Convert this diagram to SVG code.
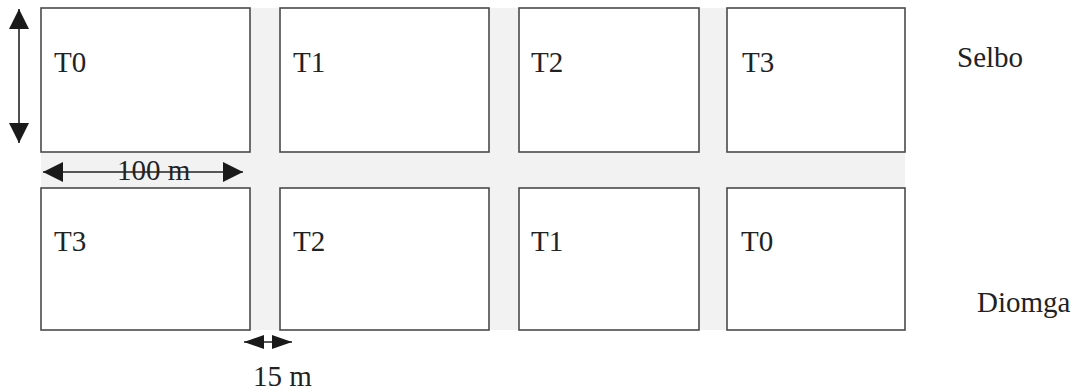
<svg xmlns="http://www.w3.org/2000/svg" width="1078" height="392" viewBox="0 0 1078 392">
<style>
.plot{fill:#ffffff;stroke:#4a4a4a;stroke-width:1.6}
.lbl{font-family:"Liberation Serif","Times New Roman",serif;font-size:29px;fill:#222}
.dim{stroke:#222;stroke-width:1.6;fill:none}
</style>
<defs>
<marker id="ah" viewBox="0 0 20 20" refX="20" refY="10" markerWidth="20" markerHeight="20" markerUnits="userSpaceOnUse" orient="auto-start-reverse">
<path d="M0,0 L20,10 L0,20 Z" fill="#1a1a1a"/>
</marker>
<marker id="ahs" viewBox="0 0 20 14" refX="20" refY="7" markerWidth="20" markerHeight="14" markerUnits="userSpaceOnUse" orient="auto-start-reverse">
<path d="M0,0 L20,7 L0,14 Z" fill="#1a1a1a"/>
</marker>
</defs>
<rect x="0" y="0" width="1078" height="392" fill="#ffffff"/>
<rect id="paths" x="41" y="8" width="864" height="322" fill="#f2f2f2"/>
<g id="T0-top"><rect class="plot" x="41" y="8" width="209" height="144"/><text class="lbl" x="54" y="72">T0</text></g>
<g id="T1-top"><rect class="plot" x="280" y="8" width="209" height="144"/><text class="lbl" x="293" y="72">T1</text></g>
<g id="T2-top"><rect class="plot" x="519" y="8" width="180" height="144"/><text class="lbl" x="531" y="72">T2</text></g>
<g id="T3-top"><rect class="plot" x="727" y="8" width="178" height="144"/><text class="lbl" x="742" y="72">T3</text></g>
<g id="T3-bottom"><rect class="plot" x="41" y="188" width="209" height="142"/><text class="lbl" x="54" y="251">T3</text></g>
<g id="T2-bottom"><rect class="plot" x="280" y="188" width="209" height="142"/><text class="lbl" x="293" y="251">T2</text></g>
<g id="T1-bottom"><rect class="plot" x="519" y="188" width="180" height="142"/><text class="lbl" x="531" y="251">T1</text></g>
<g id="T0-bottom"><rect class="plot" x="727" y="188" width="178" height="142"/><text class="lbl" x="741" y="251">T0</text></g>
<g id="site-labels">
<text class="lbl" x="957" y="67" font-size="28">Selbo</text>
<text class="lbl" x="977" y="312">Diomga</text>
</g>
<g id="connectors">
<line class="dim" x1="19" y1="9" x2="19" y2="143" marker-start="url(#ah)" marker-end="url(#ah)"/>
<line class="dim" x1="43" y1="172" x2="243" y2="172" marker-start="url(#ah)" marker-end="url(#ah)"/>
<line class="dim" x1="244" y1="342" x2="292" y2="342" marker-start="url(#ahs)" marker-end="url(#ahs)"/>
</g>
<g id="dim-labels">
<text class="lbl" x="117" y="180" font-size="28">100 m</text>
<text class="lbl" x="253" y="386" font-size="28">15 m</text>
</g>
</svg>
